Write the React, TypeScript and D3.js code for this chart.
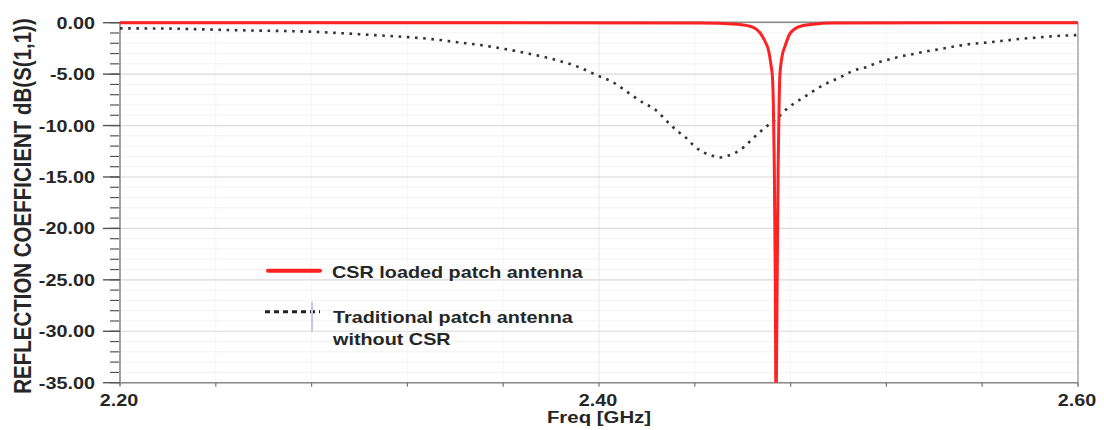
import * as d3 from 'd3';

// Traditional patch antenna (dotted)
const tradFreq = [
  2.2, 2.22, 2.2447, 2.2614, 2.2794, 2.2932, 2.3057, 2.3199, 2.3303, 2.3408,
  2.3504, 2.3608, 2.3713, 2.3817, 2.3921, 2.3988, 2.4059, 2.4122, 2.4193, 2.4226,
  2.4264, 2.4297, 2.4331, 2.4364, 2.4398, 2.4435, 2.4469, 2.4502, 2.4536, 2.4573,
  2.4607, 2.464, 2.4673, 2.4707, 2.4744, 2.4778, 2.4811, 2.4845, 2.4878, 2.4911,
  2.4945, 2.4982, 2.5016, 2.5049, 2.5083, 2.512, 2.5154, 2.5187, 2.5225, 2.5254,
  2.5292, 2.5363, 2.5425, 2.5496, 2.5563, 2.5634, 2.5705, 2.5772, 2.5843, 2.5914,
  2.5977, 2.6,
];
const tradDb = [
  -0.55, -0.57, -0.71, -0.78, -0.87, -1.03, -1.2, -1.4, -1.6, -1.9,
  -2.17, -2.56, -3.04, -3.6, -4.37, -5.08, -5.8, -6.8, -7.9, -8.3,
  -9.1, -9.9, -10.6, -11.2, -12.0, -12.6, -12.9, -13.1, -12.95, -12.6,
  -12.05, -11.3, -10.6, -9.94, -9.3, -8.5, -7.9, -7.4, -6.9, -6.4,
  -5.96, -5.57, -5.2, -4.8, -4.5, -4.3, -3.95, -3.7, -3.5, -3.3,
  -3.14, -2.8, -2.56, -2.26, -2.04, -1.9, -1.71, -1.55, -1.42, -1.29,
  -1.22, -1.2,
];

// CSR loaded patch antenna (solid red)
const csrFreq = [
  2.2, 2.4423, 2.4577, 2.4644, 2.4673, 2.4694, 2.4709, 2.4718, 2.4724, 2.4728,
  2.4732, 2.4736, 2.4739, 2.4744, 2.4748, 2.4752, 2.4755, 2.4763, 2.4778, 2.4799,
  2.4841, 2.4895, 2.4966, 2.6,
];
const csrDb = [
  0, -0.02, -0.15, -0.45, -1.0, -1.85, -2.8, -4.1, -5.2, -8,
  -14, -25, -37, -25, -14, -8, -5.2, -3.45, -2.2, -1.0,
  -0.35, -0.15, -0.02, 0,
];

const yMajor = [0, -5, -10, -15, -20, -25, -30, -35];
const yMinor = d3.range(0, -36, -1);
const xMinor = [2.2, 2.24, 2.28, 2.32, 2.36, 2.4, 2.44, 2.48, 2.52, 2.56, 2.6];
const xLabels = [2.2, 2.4, 2.6];

const legendItems = ['CSR loaded patch antenna', 'Traditional patch antenna', 'without CSR'];

const W = 1104;
const H = 430;
const left = 120;
const right = 1078;
const top = 22.7;
const bottom = 382.7;
const SX = 1.2; // text in the picture is stretched horizontally
const FONT = 'Liberation Sans, Arial, sans-serif';

function SText(props: {
  x: number; y: number; size: number; anchor?: string; children: any; rotate?: boolean;
}) {
  const { x, y, size, anchor = 'start', children, rotate } = props;
  return (
    <text
      transform={`translate(${x},${y}) scale(${SX},1)${rotate ? ' rotate(-90)' : ''}`}
      textAnchor={anchor}
      fontFamily={FONT}
      fontWeight="bold"
      fontSize={size}
      fill="#262626"
    >
      {children}
    </text>
  );
}

export default function App() {
  const x = d3.scaleLinear().domain([2.2, 2.6]).range([left, right]);
  const y = d3.scaleLinear().domain([0, -35]).range([top, bottom]);

  const trad = tradFreq.map((f, i) => [f, tradDb[i]] as [number, number]);
  const csr = csrFreq.map((f, i) => [f, csrDb[i]] as [number, number]);

  const line = d3
    .line<[number, number]>()
    .x((d) => x(d[0]))
    .y((d) => y(d[1]))
    .curve(d3.curveMonotoneX);

  return (
    <svg
      width={W}
      height={H}
      style={{ position: 'absolute', left: 0, top: 0, background: '#fff' }}
    >
      <defs>
        <clipPath id="plot">
          <rect x={left} y={top - 4} width={right - left} height={bottom - top + 4} />
        </clipPath>
      </defs>

      {/* minor grid */}
      {yMinor.map((v) => (
        <line key={'gm' + v} x1={left} x2={right} y1={y(v)} y2={y(v)} stroke="#f2f2f2" strokeWidth={1} />
      ))}
      {xMinor.map((v) => (
        <line key={'gx' + v} x1={x(v)} x2={x(v)} y1={top} y2={bottom} stroke="#f6f6f6" strokeWidth={1} />
      ))}
      <line x1={x(2.4)} x2={x(2.4)} y1={top} y2={bottom} stroke="#ececec" strokeWidth={1} />
      {/* major grid */}
      {yMajor.map((v) => (
        <line key={'gM' + v} x1={left} x2={right} y1={y(v)} y2={y(v)} stroke="#dcdcdc" strokeWidth={1.2} />
      ))}

      {/* frame */}
      <line x1={left} x2={right} y1={top - 0.5} y2={top - 0.5} stroke="#888" strokeWidth={1.5} />
      <line x1={right} x2={right} y1={top} y2={bottom + 3} stroke="#bdbdbd" strokeWidth={2} />
      <line x1={left} x2={right} y1={bottom} y2={bottom} stroke="#8a8a8a" strokeWidth={1.6} />
      <line x1={left} x2={left} y1={top} y2={bottom + 2} stroke="#a0a0a0" strokeWidth={2} />

      {/* y ticks */}
      {yMinor.map((v) => (
        <line key={'tm' + v} x1={110} x2={119} y1={y(v)} y2={y(v)} stroke="#555" strokeWidth={1.2} />
      ))}
      {yMajor.map((v) => (
        <line key={'tM' + v} x1={103} x2={120} y1={y(v)} y2={y(v)} stroke="#555" strokeWidth={1.4} />
      ))}
      {/* x ticks */}
      {xMinor.map((v) => (
        <line key={'tx' + v} x1={x(v)} x2={x(v)} y1={bottom} y2={bottom + 4} stroke="#777" strokeWidth={1.2} />
      ))}

      {/* curves */}
      <g clipPath="url(#plot)">
        <path
          d={line(trad) ?? ''}
          fill="none"
          stroke="#333"
          strokeWidth={2.6}
          strokeDasharray="2.6 5.6"
        />
        <path d={line(csr) ?? ''} fill="none" stroke="#ff2222" strokeWidth={3} />
      </g>

      {/* y tick labels */}
      {yMajor.map((v) => (
        <SText key={'yl' + v} x={95} y={y(v) + 6} size={16.5} anchor="end">
          {v.toFixed(2)}
        </SText>
      ))}
      {/* x tick labels */}
      {xLabels.map((v) => (
        <SText key={'xl' + v} x={x(v) - 1} y={405.5} size={16.5} anchor="middle">
          {v.toFixed(2)}
        </SText>
      ))}

      {/* axis titles */}
      <SText x={(left + right) / 2} y={423} size={17} anchor="middle">
        Freq [GHz]
      </SText>
      <SText x={31} y={206} size={20.5} anchor="middle" rotate>
        REFLECTION COEFFICIENT dB(S(1,1))
      </SText>

      {/* legend */}
      <line x1={268} x2={320} y1={270.7} y2={270.7} stroke="#ff2222" strokeWidth={4} strokeLinecap="round" />
      <SText x={332} y={278} size={16.5}>{legendItems[0]}</SText>
      <line x1={265} x2={320} y1={311.7} y2={311.7} stroke="#222" strokeWidth={3} strokeDasharray="5 4" />
      <rect x={311} y={301.7} width={2} height={30} fill="#c8c2ef" />
      <SText x={333} y={323.3} size={16.5}>{legendItems[1]}</SText>
      <SText x={333} y={345} size={16.5}>{legendItems[2]}</SText>
    </svg>
  );
}
